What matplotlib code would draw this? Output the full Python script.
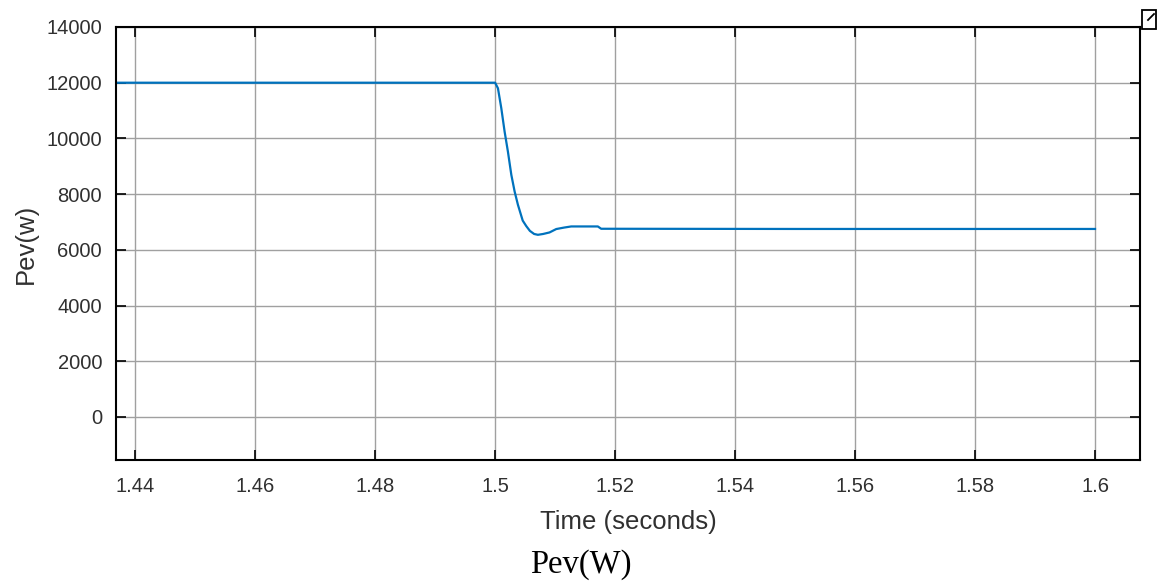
import matplotlib
matplotlib.use("Agg")
import matplotlib.pyplot as plt
from matplotlib.patches import Rectangle
from matplotlib.lines import Line2D

# Data
time_s = [1.4368, 1.4500, 1.4700, 1.4900, 1.5000, 1.50047, 1.50103, 1.50158, 1.50213,
          1.50270, 1.50325, 1.50380, 1.50460, 1.50520, 1.50580, 1.50650, 1.50713,
          1.50800, 1.50907, 1.51019, 1.51150, 1.51268, 1.51500, 1.51712, 1.51768,
          1.55000, 1.60000]
power_w = [12000, 12000, 12000, 12000, 12000, 11800, 11084, 10246, 9529,
           8693, 8095, 7618, 7050, 6850, 6680, 6570, 6540,
           6570, 6625, 6747, 6800, 6840, 6840, 6840, 6757,
           6750, 6750]

xticks = [1.44, 1.46, 1.48, 1.5, 1.52, 1.54, 1.56, 1.58, 1.6]
xticklabels = ["1.44", "1.46", "1.48", "1.5", "1.52", "1.54", "1.56", "1.58", "1.6"]
yticks = [0, 2000, 4000, 6000, 8000, 10000, 12000, 14000]

W, H = 1161, 581
fig = plt.figure(figsize=(W / 100, H / 100), dpi=100)
fig.patch.set_facecolor("white")

left, right, top, bottom = 116, 1140, 27, 460
ax = fig.add_axes([left / W, 1 - bottom / H, (right - left) / W, (bottom - top) / H])

ax.plot(time_s, power_w, color="#0072BD", linewidth=1.6)

ax.set_xlim(1.4368, 1.6075)
ax.set_ylim(-1544, 14000)
ax.set_xticks(xticks)
ax.set_xticklabels(xticklabels)
ax.set_yticks(yticks)

sans = ["Liberation Sans", "DejaVu Sans"]
for lab in ax.get_xticklabels() + ax.get_yticklabels():
    lab.set_fontfamily(sans)
    lab.set_fontsize(14.5)
    lab.set_color("#303030")

ax.tick_params(direction="in", length=7, width=1.2, top=True, right=True,
               color="black")
ax.tick_params(axis="x", pad=12)
ax.tick_params(axis="y", pad=10)
ax.grid(True, color="#a0a0a0", linewidth=1.0)
for s in ax.spines.values():
    s.set_linewidth(1.5)
    s.set_color("black")

ax.set_xlabel("Time (seconds)", fontfamily=sans, fontsize=18.5, color="#303030", labelpad=10)
ax.set_ylabel("Pev(w)", fontfamily=sans, fontsize=18.5, color="#303030", labelpad=6)

fig.text(581 / W, 1 - 565 / H, "Pev(W)", ha="center", va="center",
         fontfamily=["Liberation Serif", "DejaVu Serif"], fontsize=23.5, color="black")

# small figure icon in the top-right corner
fig.patches.append(Rectangle((1142 / W, 1 - 29 / H), 14 / W, 19 / H,
                             transform=fig.transFigure, fill=False,
                             edgecolor="black", linewidth=1.3))
fig.lines.append(Line2D([1148 / W, 1154 / W], [1 - 20 / H, 1 - 14 / H],
                        transform=fig.transFigure, color="black", linewidth=1.3))

fig.savefig("out.png", dpi=100, facecolor="white")
